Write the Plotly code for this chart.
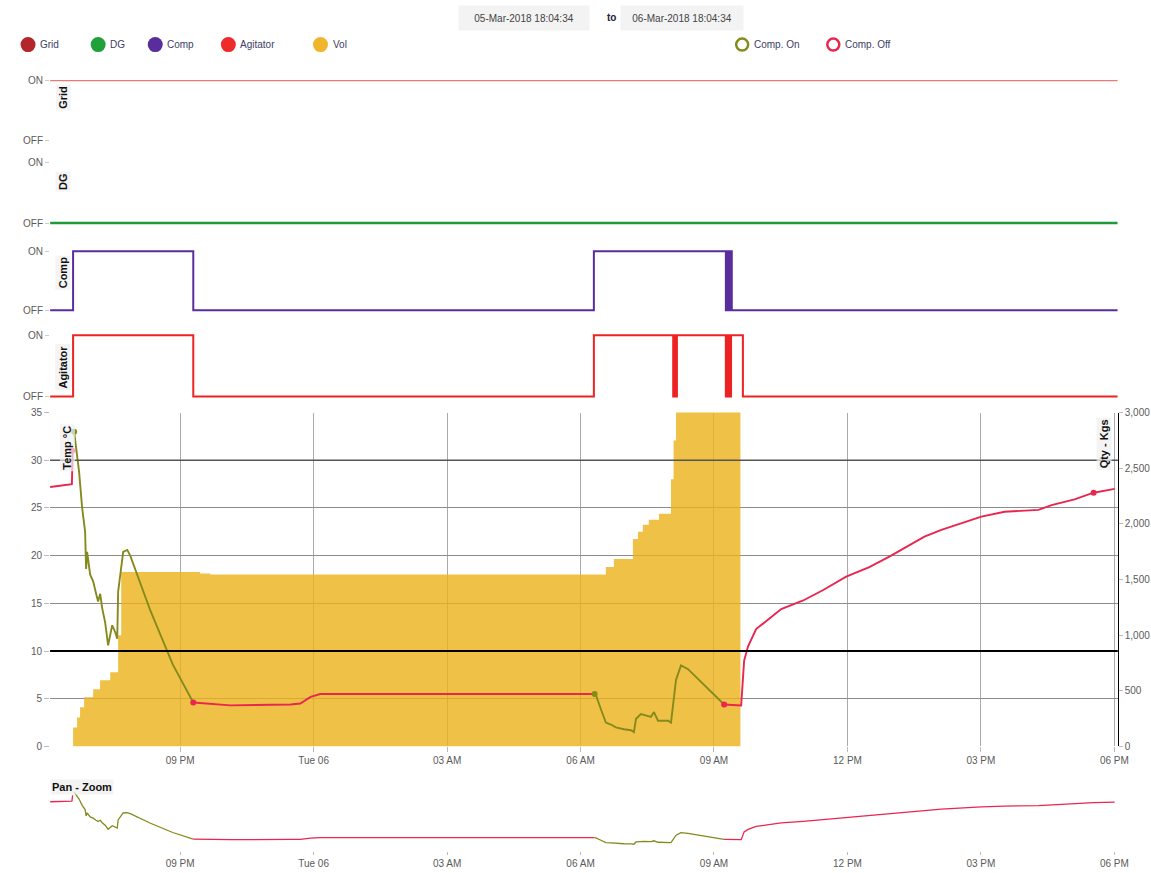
import plotly.graph_objects as go

# figure canvas (slightly larger than the photographed window; positions below are
# given in photographed-pixel coordinates and mapped onto the canvas)
W, H = 1164, 886
SX, SY, OY = 0.989, 0.985, 5.5
def px(x): return (x / SX) / W
def py(y): return 1 - ((y - OY) / SY) / H

# ---------------- data ----------------
x_range = ["2018-03-05 18:04:34", "2018-03-06 18:04:34"]
tick_times = ["2018-03-05 21:00", "2018-03-06 00:00", "2018-03-06 03:00", "2018-03-06 06:00",
              "2018-03-06 09:00", "2018-03-06 12:00", "2018-03-06 15:00", "2018-03-06 18:00"]
tick_labels = ["09 PM", "Tue 06", "03 AM", "06 AM", "09 AM", "12 PM", "03 PM", "06 PM"]

grid_times = ["2018-03-05 18:04:34", "2018-03-06 18:04:34"]
grid_states = [1, 1]
dg_times = ["2018-03-05 18:04:34", "2018-03-06 18:04:34"]
dg_states = [0, 0]
comp_times = ["2018-03-05 18:04:34", "2018-03-05 18:35:36", "2018-03-05 21:17:42", "2018-03-06 06:18:00",
              "2018-03-06 09:16:00", "2018-03-06 09:17:00", "2018-03-06 09:18:00", "2018-03-06 09:19:00",
              "2018-03-06 09:20:00", "2018-03-06 09:21:00", "2018-03-06 09:22:00", "2018-03-06 09:23:00",
              "2018-03-06 09:24:00", "2018-03-06 18:04:34"]
comp_states = [0, 1, 0, 1, 0, 1, 0, 1, 0, 1, 0, 1, 0, 0]
agit_times = ["2018-03-05 18:04:34", "2018-03-05 18:35:36", "2018-03-05 21:17:42", "2018-03-06 06:18:00",
              "2018-03-06 08:05:00", "2018-03-06 08:06:00", "2018-03-06 08:07:00", "2018-03-06 08:08:00",
              "2018-03-06 08:09:00", "2018-03-06 08:10:00",
              "2018-03-06 09:16:00", "2018-03-06 09:17:00", "2018-03-06 09:18:00", "2018-03-06 09:19:00",
              "2018-03-06 09:20:00", "2018-03-06 09:21:00", "2018-03-06 09:22:00", "2018-03-06 09:23:00",
              "2018-03-06 09:39:00", "2018-03-06 18:04:34"]
agit_states = [0, 1, 0, 1, 0, 1, 0, 1, 0, 1, 0, 1, 0, 1, 0, 1, 0, 1, 0, 0]

# temperature, split by compressor state (Off = red, On = olive)
temp_off1_t = ["2018-03-05 18:04:34", "2018-03-05 18:34:00", "2018-03-05 18:35:00"]
temp_off1_v = [27.2, 27.5, 31.0]
temp_on1_t = ["2018-03-05 18:37:00", "2018-03-05 18:39:40", "2018-03-05 18:43:40", "2018-03-05 18:47:50",
              "2018-03-05 18:51:50", "2018-03-05 18:53:10", "2018-03-05 18:54:30", "2018-03-05 18:58:40",
              "2018-03-05 19:02:40", "2018-03-05 19:06:40", "2018-03-05 19:09:20", "2018-03-05 19:12:10",
              "2018-03-05 19:14:50", "2018-03-05 19:18:50", "2018-03-05 19:22:50", "2018-03-05 19:28:20",
              "2018-03-05 19:32:20", "2018-03-05 19:35:10", "2018-03-05 19:36:20", "2018-03-05 19:43:10",
              "2018-03-05 19:48:40", "2018-03-05 19:52:40", "2018-03-05 20:20:00", "2018-03-05 20:50:00",
              "2018-03-05 21:17:40"]
temp_on1_v = [33.0, 31.5, 28.8, 25.0, 22.5, 18.6, 20.4, 18.0, 17.3, 16.0, 15.2, 16.0, 14.5, 13.0, 10.6,
              12.7, 12.0, 11.3, 16.2, 20.4, 20.6, 20.0, 14.2, 8.6, 4.6]
temp_off2_t = ["2018-03-05 21:17:40", "2018-03-05 22:08:00", "2018-03-05 23:29:00", "2018-03-05 23:42:00",
               "2018-03-05 23:56:00", "2018-03-06 00:09:00", "2018-03-06 06:19:00"]
temp_off2_v = [4.6, 4.3, 4.4, 4.5, 5.2, 5.5, 5.5]
temp_on2_t = ["2018-03-06 06:19:00", "2018-03-06 06:20:40", "2018-03-06 06:27:30", "2018-03-06 06:34:10",
              "2018-03-06 06:41:00", "2018-03-06 06:47:40", "2018-03-06 06:58:30", "2018-03-06 07:08:00",
              "2018-03-06 07:12:00", "2018-03-06 07:14:50", "2018-03-06 07:21:30", "2018-03-06 07:25:30",
              "2018-03-06 07:35:00", "2018-03-06 07:39:00", "2018-03-06 07:44:30", "2018-03-06 07:58:00",
              "2018-03-06 08:02:00", "2018-03-06 08:08:50", "2018-03-06 08:15:30", "2018-03-06 08:25:00",
              "2018-03-06 09:13:40"]
temp_on2_v = [5.5, 5.4, 3.9, 2.5, 2.3, 2.0, 1.8, 1.7, 1.5, 2.9, 3.4, 3.3, 3.1, 3.6, 2.7, 2.7, 2.5, 7.0,
              8.5, 8.1, 4.4]
temp_off3_t = ["2018-03-06 09:13:40", "2018-03-06 09:36:40", "2018-03-06 09:40:40", "2018-03-06 09:46:00",
               "2018-03-06 09:56:50", "2018-03-06 10:14:20", "2018-03-06 10:30:40", "2018-03-06 11:00:20",
               "2018-03-06 11:27:20", "2018-03-06 11:58:20", "2018-03-06 12:29:30", "2018-03-06 12:56:30",
               "2018-03-06 13:23:30", "2018-03-06 13:43:50", "2018-03-06 14:06:40", "2018-03-06 15:00:40",
               "2018-03-06 15:31:50", "2018-03-06 16:17:40", "2018-03-06 16:35:20", "2018-03-06 17:06:20",
               "2018-03-06 17:32:00", "2018-03-06 18:00:20"]
temp_off3_v = [4.4, 4.3, 9.0, 10.5, 12.3, 13.4, 14.4, 15.3, 16.4, 17.8, 18.8, 19.9, 21.1, 22.0, 22.7,
               24.1, 24.6, 24.8, 25.3, 25.9, 26.6, 27.0]

on_marker_t = ["2018-03-05 18:37:00", "2018-03-06 06:19:00"]
on_marker_v = [33.0, 5.5]
off_marker_t = ["2018-03-05 18:34:30", "2018-03-05 21:17:40", "2018-03-06 09:13:40", "2018-03-06 17:32:00"]
off_marker_v = [31.0, 4.6, 4.4, 26.6]

vol_t = ["2018-03-05 18:35:36", "2018-03-05 18:41:00", "2018-03-05 18:45:00", "2018-03-05 18:50:30",
         "2018-03-05 19:02:40", "2018-03-05 19:12:00", "2018-03-05 19:25:40", "2018-03-05 19:36:20",
         "2018-03-05 19:40:30", "2018-03-05 21:27:00", "2018-03-05 21:40:40", "2018-03-06 06:34:10",
         "2018-03-06 06:45:00", "2018-03-06 07:10:40", "2018-03-06 07:17:30", "2018-03-06 07:24:00",
         "2018-03-06 07:32:00", "2018-03-06 07:45:50", "2018-03-06 08:02:00", "2018-03-06 08:05:30",
         "2018-03-06 08:08:50", "2018-03-06 09:35:40"]
vol_v = [171, 261, 351, 441, 514, 595, 667, 1000, 1568, 1555, 1545, 1612, 1685, 1865, 1928, 1991, 2036,
         2090, 2400, 2750, 3100, 0]

legend_names = ["Grid", "DG", "Comp", "Agitator", "Vol"]
legend_colors = ["#b3262b", "#22a03c", "#5a2d9c", "#ee2a2a", "#f0b52a"]
ring_names = ["Comp. On", "Comp. Off"]
ring_colors = ["#858a1c", "#e8264f"]

# ---------------- styles ----------------
OLIVE = "#858a1c"
CRIMSON = "#e8264f"
FONT = "Liberation Sans, Arial, sans-serif"
XDOM = [px(50), px(1116)]

fig = go.Figure()

def status(times, states, color, width, n):
    fig.add_trace(go.Scatter(x=times, y=states, mode="lines", xaxis="x" + str(n), yaxis="y" + str(n),
                             line=dict(color=color, width=width, shape="hv"),
                             showlegend=False, hoverinfo="skip"))

status(grid_times, grid_states, "#e45a5a", 1, 3)
status(dg_times, dg_states, "#1f9a38", 2.5, 4)
status(comp_times, comp_states, "#5a2d9c", 2, 5)
status(agit_times, agit_states, "#ee2222", 2, 6)

# volume area on primary axis (right side)
fig.add_trace(go.Scatter(x=vol_t, y=vol_v, mode="lines", fill="tozeroy", xaxis="x", yaxis="y",
                         line=dict(width=0, shape="hv", color="rgba(236,178,25,0.8)"),
                         fillcolor="rgba(236,178,25,0.8)", showlegend=False, hoverinfo="skip"))

segs = [(temp_off1_t, temp_off1_v, CRIMSON), (temp_on1_t, temp_on1_v, OLIVE),
        (temp_off2_t, temp_off2_v, CRIMSON), (temp_on2_t, temp_on2_v, OLIVE),
        (temp_off3_t, temp_off3_v, CRIMSON)]
for t, v, c in segs:
    fig.add_trace(go.Scatter(x=t, y=v, mode="lines", xaxis="x", yaxis="y2",
                             line=dict(color=c, width=1.9), showlegend=False, hoverinfo="skip"))
    fig.add_trace(go.Scatter(x=t, y=v, mode="lines", xaxis="x7", yaxis="y7",
                             line=dict(color=c, width=1.3), showlegend=False, hoverinfo="skip"))
fig.add_trace(go.Scatter(x=on_marker_t, y=on_marker_v, mode="markers", xaxis="x", yaxis="y2",
                         marker=dict(color=OLIVE, size=6), showlegend=False, hoverinfo="skip"))
fig.add_trace(go.Scatter(x=off_marker_t, y=off_marker_v, mode="markers", xaxis="x", yaxis="y2",
                         marker=dict(color=CRIMSON, size=6), showlegend=False, hoverinfo="skip"))

tickfont = dict(family=FONT, size=10, color="#5a5a5a")

def status_axes(n, on_px, off_px):
    unit = off_px - on_px
    top = on_px - 0.1 * unit
    bot = off_px + 0.1 * unit
    fig.layout["xaxis" + str(n)] = dict(domain=XDOM, range=x_range, anchor="y" + str(n), type="date",
                                        showticklabels=False, showgrid=False, zeroline=False, ticks="")
    fig.layout["yaxis" + str(n)] = dict(domain=[py(bot), py(top)], range=[-0.1, 1.1], anchor="x" + str(n),
                                        tickvals=[0, 1], ticktext=["OFF", "ON"], showgrid=False,
                                        zeroline=False, ticks="outside", ticklen=4, tickcolor="#ccc",
                                        tickfont=tickfont)

status_axes(3, 80, 140)
status_axes(4, 162, 222)
status_axes(5, 250, 309)
status_axes(6, 334, 395)

fig.update_layout(
    width=W, height=H, margin=dict(l=0, r=0, t=0, b=0), autosize=False,
    paper_bgcolor="white", plot_bgcolor="rgba(0,0,0,0)", font=dict(family=FONT),
    xaxis=dict(domain=XDOM, range=x_range, type="date", anchor="y", tickvals=tick_times,
               ticktext=tick_labels, showgrid=True, gridcolor="#aaa", gridwidth=1, zeroline=False,
               ticks="outside", ticklen=5, tickcolor="#bbb", tickfont=tickfont),
    yaxis=dict(domain=[py(744), py(411)], range=[0, 3000], side="right", anchor="x",
               tickvals=[0, 500, 1000, 1500, 2000, 2500, 3000], tickformat=",", showgrid=False,
               zeroline=False, showline=True, linecolor="black", linewidth=1, ticks="outside",
               ticklen=4, tickcolor="#bbb", tickfont=tickfont),
    yaxis2=dict(range=[0, 35], overlaying="y", side="left", anchor="x", dtick=5, showgrid=True,
                gridcolor="#8c8c8c", gridwidth=1, zeroline=False, ticks="outside", ticklen=5,
                tickcolor="#bbb", tickfont=tickfont),
    xaxis7=dict(domain=XDOM, range=x_range, type="date", anchor="y7", tickvals=tick_times,
                ticktext=tick_labels, showgrid=False, zeroline=False, ticks="outside", ticklen=3,
                tickcolor="#bbb", tickfont=tickfont),
    yaxis7=dict(domain=[py(848), py(780)], range=[-2.4, 38.8], anchor="x7", visible=False),
)

shapes = [
    dict(type="line", xref="x domain", yref="y2", x0=0, x1=1, y0=10, y1=10,
         line=dict(color="black", width=2), layer="above"),
    dict(type="line", xref="x domain", yref="y2", x0=0, x1=1, y0=30, y1=30,
         line=dict(color="#555", width=1.3), layer="above"),
]
annotations = []
legend_mx = [28, 98, 155, 228, 320]
for name, col, mx in zip(legend_names, legend_colors, legend_mx):
    shapes.append(dict(type="circle", xref="paper", yref="paper", xsizemode="pixel", ysizemode="pixel",
                       xanchor=px(mx), yanchor=py(44), x0=-7.5, x1=7.5, y0=-7.5, y1=7.5,
                       fillcolor=col, line=dict(width=0)))
    annotations.append(dict(text=name, x=px(mx + 10), y=py(44), xref="paper", yref="paper",
                            xanchor="left", yanchor="middle", showarrow=False,
                            font=dict(size=10, color="#3d3d66", family=FONT)))
ring_mx = [741, 832]
for name, col, mx in zip(ring_names, ring_colors, ring_mx):
    shapes.append(dict(type="circle", xref="paper", yref="paper", xsizemode="pixel", ysizemode="pixel",
                       xanchor=px(mx), yanchor=py(44), x0=-6, x1=6, y0=-6, y1=6,
                       fillcolor="white", line=dict(width=2.5, color=col)))
    annotations.append(dict(text=name, x=px(mx + 10), y=py(44), xref="paper", yref="paper",
                            xanchor="left", yanchor="middle", showarrow=False,
                            font=dict(size=10, color="#3d3d66", family=FONT)))

# date range header
annotations += [
    dict(text="05-Mar-2018 18:04:34", x=px(523), y=py(17), xref="paper", yref="paper",
         xanchor="center", yanchor="middle", showarrow=False, bgcolor="#f3f3f3", width=128, height=22,
         font=dict(size=10, color="#444", family=FONT)),
    dict(text="<b>to</b>", x=px(611), y=py(17), xref="paper", yref="paper", showarrow=False,
         xanchor="center", yanchor="middle", font=dict(size=10, color="#223", family=FONT)),
    dict(text="06-Mar-2018 18:04:34", x=px(681), y=py(17), xref="paper", yref="paper",
         xanchor="center", yanchor="middle", showarrow=False, bgcolor="#f3f3f3", width=120, height=22,
         font=dict(size=10, color="#444", family=FONT)),
]
# in-panel axis titles
titles = [("Grid", 63, 97), ("DG", 63, 181), ("Comp", 63, 272), ("Agitator", 63, 366),
          ("Temp °C", 67, 446), ("Qty - Kgs", 1102, 442)]
for txt, tx, ty in titles:
    annotations.append(dict(text="<b>" + txt + "</b>", x=px(tx), y=py(ty), xref="paper", yref="paper",
                            xanchor="center", yanchor="middle",
                            textangle=-90, showarrow=False, bgcolor="rgba(240,240,240,0.7)",
                            font=dict(size=11, color="#111", family=FONT)))
annotations.append(dict(text="<b>Pan - Zoom</b>", x=px(50), y=py(784), xref="paper", yref="paper",
                        xanchor="left", yanchor="middle", showarrow=False, bgcolor="rgba(240,240,240,0.8)",
                        font=dict(size=11, color="#111", family=FONT)))

fig.update_layout(shapes=shapes, annotations=annotations)
fig.write_html("out.html", config={"displayModeBar": False, "responsive": False},
               post_script="document.body.style.margin='0';document.body.style.overflow='hidden';"
                           "var d=document.getElementById('{plot_id}');d.style.position='fixed';"
                           "d.style.left='0px';d.style.top='0px';")
